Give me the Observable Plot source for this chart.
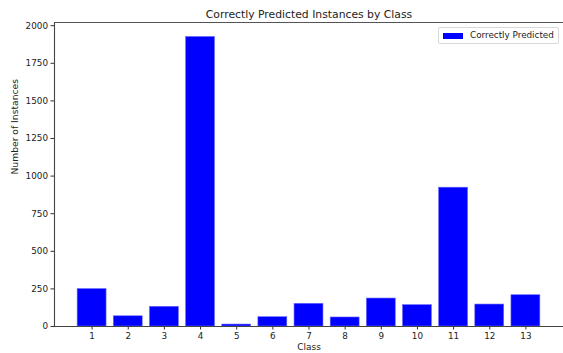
<!DOCTYPE html>
<html>
<head>
<meta charset="utf-8">
<script src="https://cdn.jsdelivr.net/npm/d3@7"></script>
<script src="https://cdn.jsdelivr.net/npm/@observablehq/plot@0.6"></script>
<style>
  html, body { margin: 0; padding: 0; background: #fff; }
  #wrap { position: relative; width: 563px; height: 353px; overflow: hidden; font-family: "DejaVu Sans", sans-serif; }
  #legend { position: absolute; left: 438px; top: 27px; width: 121px; height: 17px; border: 1px solid #d9d9d9; border-radius: 2px; background: rgba(255,255,255,0.8); box-sizing: border-box; }
  #legend .sw { position: absolute; left: 4px; top: 5px; width: 20px; height: 6px; background: #0000ff; }
  #legend .lab { position: absolute; left: 31px; top: 0px; line-height: 15px; font-size: 8.8px; color: #222; white-space: nowrap; }
</style>
</head>
<body>
<div id="wrap"></div>
<script>
const title = "Correctly Predicted Instances by Class";
const xLabel = "Class";
const yLabel = "Number of Instances";
const legendLabel = "Correctly Predicted";
const classes = [1, 2, 3, 4, 5, 6, 7, 8, 9, 10, 11, 12, 13];
const counts = [249, 68, 131, 1925, 13, 62, 151, 60, 186, 142, 923, 146, 208];
const yTicks = [0, 250, 500, 750, 1000, 1250, 1500, 1750, 2000];

const data = classes.map((c, i) => ({c, v: counts[i]}));
const xDom = [0.6 - 0.64, 13.4 + 0.64];
const yMax = 1925 * 1.05;

const chart = Plot.plot({
  width: 563,
  height: 353,
  marginLeft: 54,
  marginRight: 0,
  marginTop: 22,
  marginBottom: 27,
  style: {fontFamily: "DejaVu Sans, sans-serif", fontSize: "8.8px", color: "#222", background: "#fff"},
  x: {domain: xDom, axis: null},
  y: {domain: [0, yMax], axis: null},
  marks: [
    Plot.rect(data, {x1: d => d.c - 0.4, x2: d => d.c + 0.4, y1: 0, y2: "v", fill: "#0000ff", stroke: "#6b6bff", strokeWidth: 0.6}),
    Plot.axisY({ticks: yTicks, tickSize: 3.5, tickPadding: 3, tickFormat: d => String(d), fontSize: 8.8, stroke: "#333", label: null}),
    Plot.axisX({ticks: classes, tickSize: 3.5, tickPadding: 3, tickFormat: d => String(d), fontSize: 8.8, stroke: "#333", label: null}),
    Plot.ruleX([xDom[0]], {stroke: "#444", strokeWidth: 1.1}),
    Plot.ruleY([0], {stroke: "#444", strokeWidth: 1.1}),
    Plot.ruleY([yMax], {stroke: "#555", strokeWidth: 1.1}),
    Plot.text([title], {frameAnchor: "top", dy: -12, fontSize: 10.8, fill: "#222"}),
    Plot.text([xLabel], {frameAnchor: "bottom", dy: 23, fontSize: 9, fill: "#222"}),
    Plot.text([yLabel], {frameAnchor: "left", dx: -39, rotate: -90, fontSize: 9.2, fill: "#222"})
  ]
});

const wrap = document.getElementById("wrap");
wrap.appendChild(chart);
const leg = document.createElement("div");
leg.id = "legend";
leg.innerHTML = '<div class="sw"></div><div class="lab"></div>';
leg.querySelector(".lab").textContent = legendLabel;
wrap.appendChild(leg);
</script>
</body>
</html>
